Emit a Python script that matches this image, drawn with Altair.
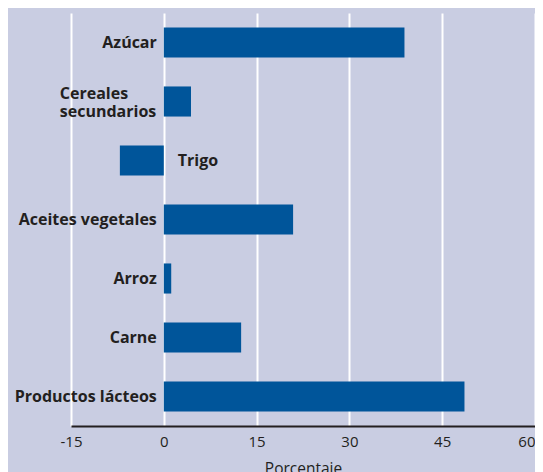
import altair as alt
import pandas as pd

categories = ["Azúcar", "Cereales\nsecundarios", "Trigo", "Aceites vegetales",
              "Arroz", "Carne", "Productos lácteos"]
values = [38.9, 4.4, -7.1, 20.9, 1.2, 12.5, 48.6]
ticks = [-15, 0, 15, 30, 45, 60]

df = pd.DataFrame({"cat": categories, "val": values})
df["zero"] = 0
df["multi"] = df["cat"].str.contains("\n")

BG = "#c9cde2"
BAR = "#00559a"
TXT = "#231f20"
FONT = "Open Sans"

y = alt.Y("cat:N", sort=None, axis=None,
          scale=alt.Scale(paddingInner=0.49, paddingOuter=0.245))
x_scale = alt.Scale(domain=[-15, 60], nice=False, zero=False)

bars = alt.Chart(df).mark_bar(color=BAR).encode(
    x=alt.X("val:Q", scale=x_scale,
            axis=alt.Axis(values=ticks, title="Porcentaje", grid=True,
                          labelExpr="'' + datum.value",
                          labelAlign={"expr": "datum.value == 60 ? 'right' : 'center'"},
                          gridColor="white", gridWidth=2, gridOpacity=1,
                          domainColor=TXT, domainWidth=2, ticks=False,
                          labelFontSize=15, labelColor=TXT, labelFont=FONT,
                          labelPadding=8, titleFont=FONT,
                          titleFontSize=15.5, titleFontWeight="normal",
                          titleColor=TXT, titlePadding=12, labelFlush=False)),
    x2="zero:Q",
    y=y,
)

label_style = dict(baseline="middle", font=FONT, fontWeight="bold",
                   fontSize=16, color=TXT)

pos_labels = alt.Chart(df[(df["val"] >= 0) & (~df["multi"])]).mark_text(
    align="right", dx=-7, **label_style
).encode(x="zero:Q", y=y, text="cat:N")

multi_labels = alt.Chart(df[df["multi"]]).mark_text(
    align="left", dx=-104, dy=-8, lineBreak="\n", lineHeight=18, **label_style
).encode(x="zero:Q", y=y, text="cat:N")

neg_labels = alt.Chart(df[df["val"] < 0]).mark_text(
    align="left", dx=14, **label_style
).encode(x="zero:Q", y=y, text="cat:N")

chart = alt.layer(bars, pos_labels, multi_labels, neg_labels).properties(
    width=464, height=413, background=BG,
    autosize=alt.AutoSizeParams(type="none"),
    padding={"left": 63, "top": 5, "right": 0, "bottom": 52},
).configure_view(stroke=None)

chart.save("out.html", embed_options={"renderer": "svg", "actions": False})
